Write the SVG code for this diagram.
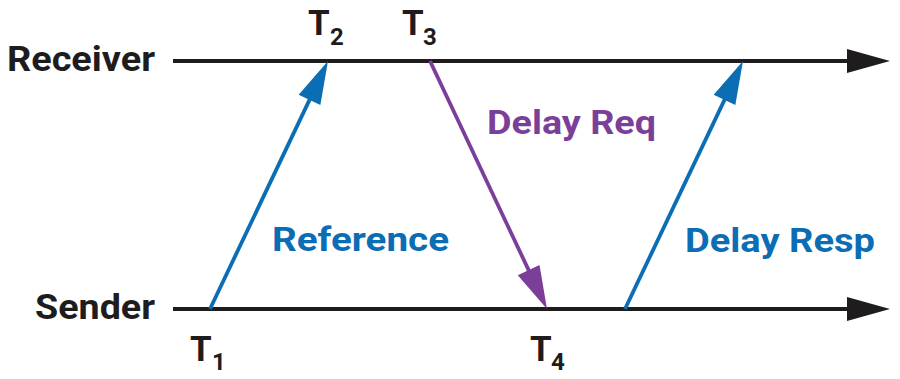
<svg xmlns="http://www.w3.org/2000/svg" width="900" height="379" viewBox="0 0 900 379">
<style>
.lbl{font-family:Roboto,"Liberation Sans",Arial,sans-serif;font-weight:bold}
.blk{fill:#1e1c1d}
.blue{fill:#0b6db4}
.purp{fill:#7b3f9a}
.axis{stroke:#1e1c1d;stroke-width:4.2;fill:none}
.ab{stroke:#0b6db4;stroke-width:3.8;fill:none}
.ap{stroke:#7b3f9a;stroke-width:3.8;fill:none}
</style>
<defs>
<marker id="hk" markerUnits="userSpaceOnUse" markerWidth="44" markerHeight="24" refX="13" refY="12" orient="auto" overflow="visible"><path d="M0,0 L43,12 L0,24 Z" fill="#1e1c1d"/></marker>
<marker id="hb" markerUnits="userSpaceOnUse" markerWidth="44" markerHeight="24" refX="13" refY="12" orient="auto" overflow="visible"><path d="M0,0 L43,12 L0,24 Z" fill="#0b6db4"/></marker>
<marker id="hp" markerUnits="userSpaceOnUse" markerWidth="44" markerHeight="24" refX="13" refY="12" orient="auto" overflow="visible"><path d="M0,0 L43,12 L0,24 Z" fill="#7b3f9a"/></marker>
</defs>
<g id="connectors">
<path class="axis" d="M173,61 L860,61" marker-end="url(#hk)"/>
<path class="axis" d="M173,309 L860,309" marker-end="url(#hk)"/>
<path class="ab" d="M210,309 L315.1,88.1" marker-end="url(#hb)"/>
<path class="ap" d="M430,61 L534.2,281.9" marker-end="url(#hp)"/>
<path class="ab" d="M625,309 L730.1,88.1" marker-end="url(#hb)"/>
</g>
<g id="receiver"><text class="lbl blk" x="7" y="71" font-size="35" textLength="148" lengthAdjust="spacingAndGlyphs">Receiver</text></g>
<g id="sender"><text class="lbl blk" x="35" y="319" font-size="35" textLength="120" lengthAdjust="spacingAndGlyphs">Sender</text></g>
<g id="t2"><text class="lbl blk" x="308" y="35" font-size="35">T<tspan x="330" y="45" font-size="24">2</tspan></text></g>
<g id="t3"><text class="lbl blk" x="402" y="35" font-size="35">T<tspan x="423" y="45" font-size="24">3</tspan></text></g>
<g id="t1"><text class="lbl blk" x="190" y="361" font-size="35">T<tspan x="212" y="370" font-size="24">1</tspan></text></g>
<g id="t4"><text class="lbl blk" x="530" y="361" font-size="35">T<tspan x="551" y="370" font-size="24">4</tspan></text></g>
<g id="reference"><text class="lbl blue" x="272" y="251" font-size="33" textLength="177" lengthAdjust="spacingAndGlyphs">Reference</text></g>
<g id="delayreq"><text class="lbl purp" x="487" y="134" font-size="33" textLength="169" lengthAdjust="spacingAndGlyphs">Delay Req</text></g>
<g id="delayresp"><text class="lbl blue" x="685" y="252" font-size="33" textLength="190" lengthAdjust="spacingAndGlyphs">Delay Resp</text></g>
</svg>
